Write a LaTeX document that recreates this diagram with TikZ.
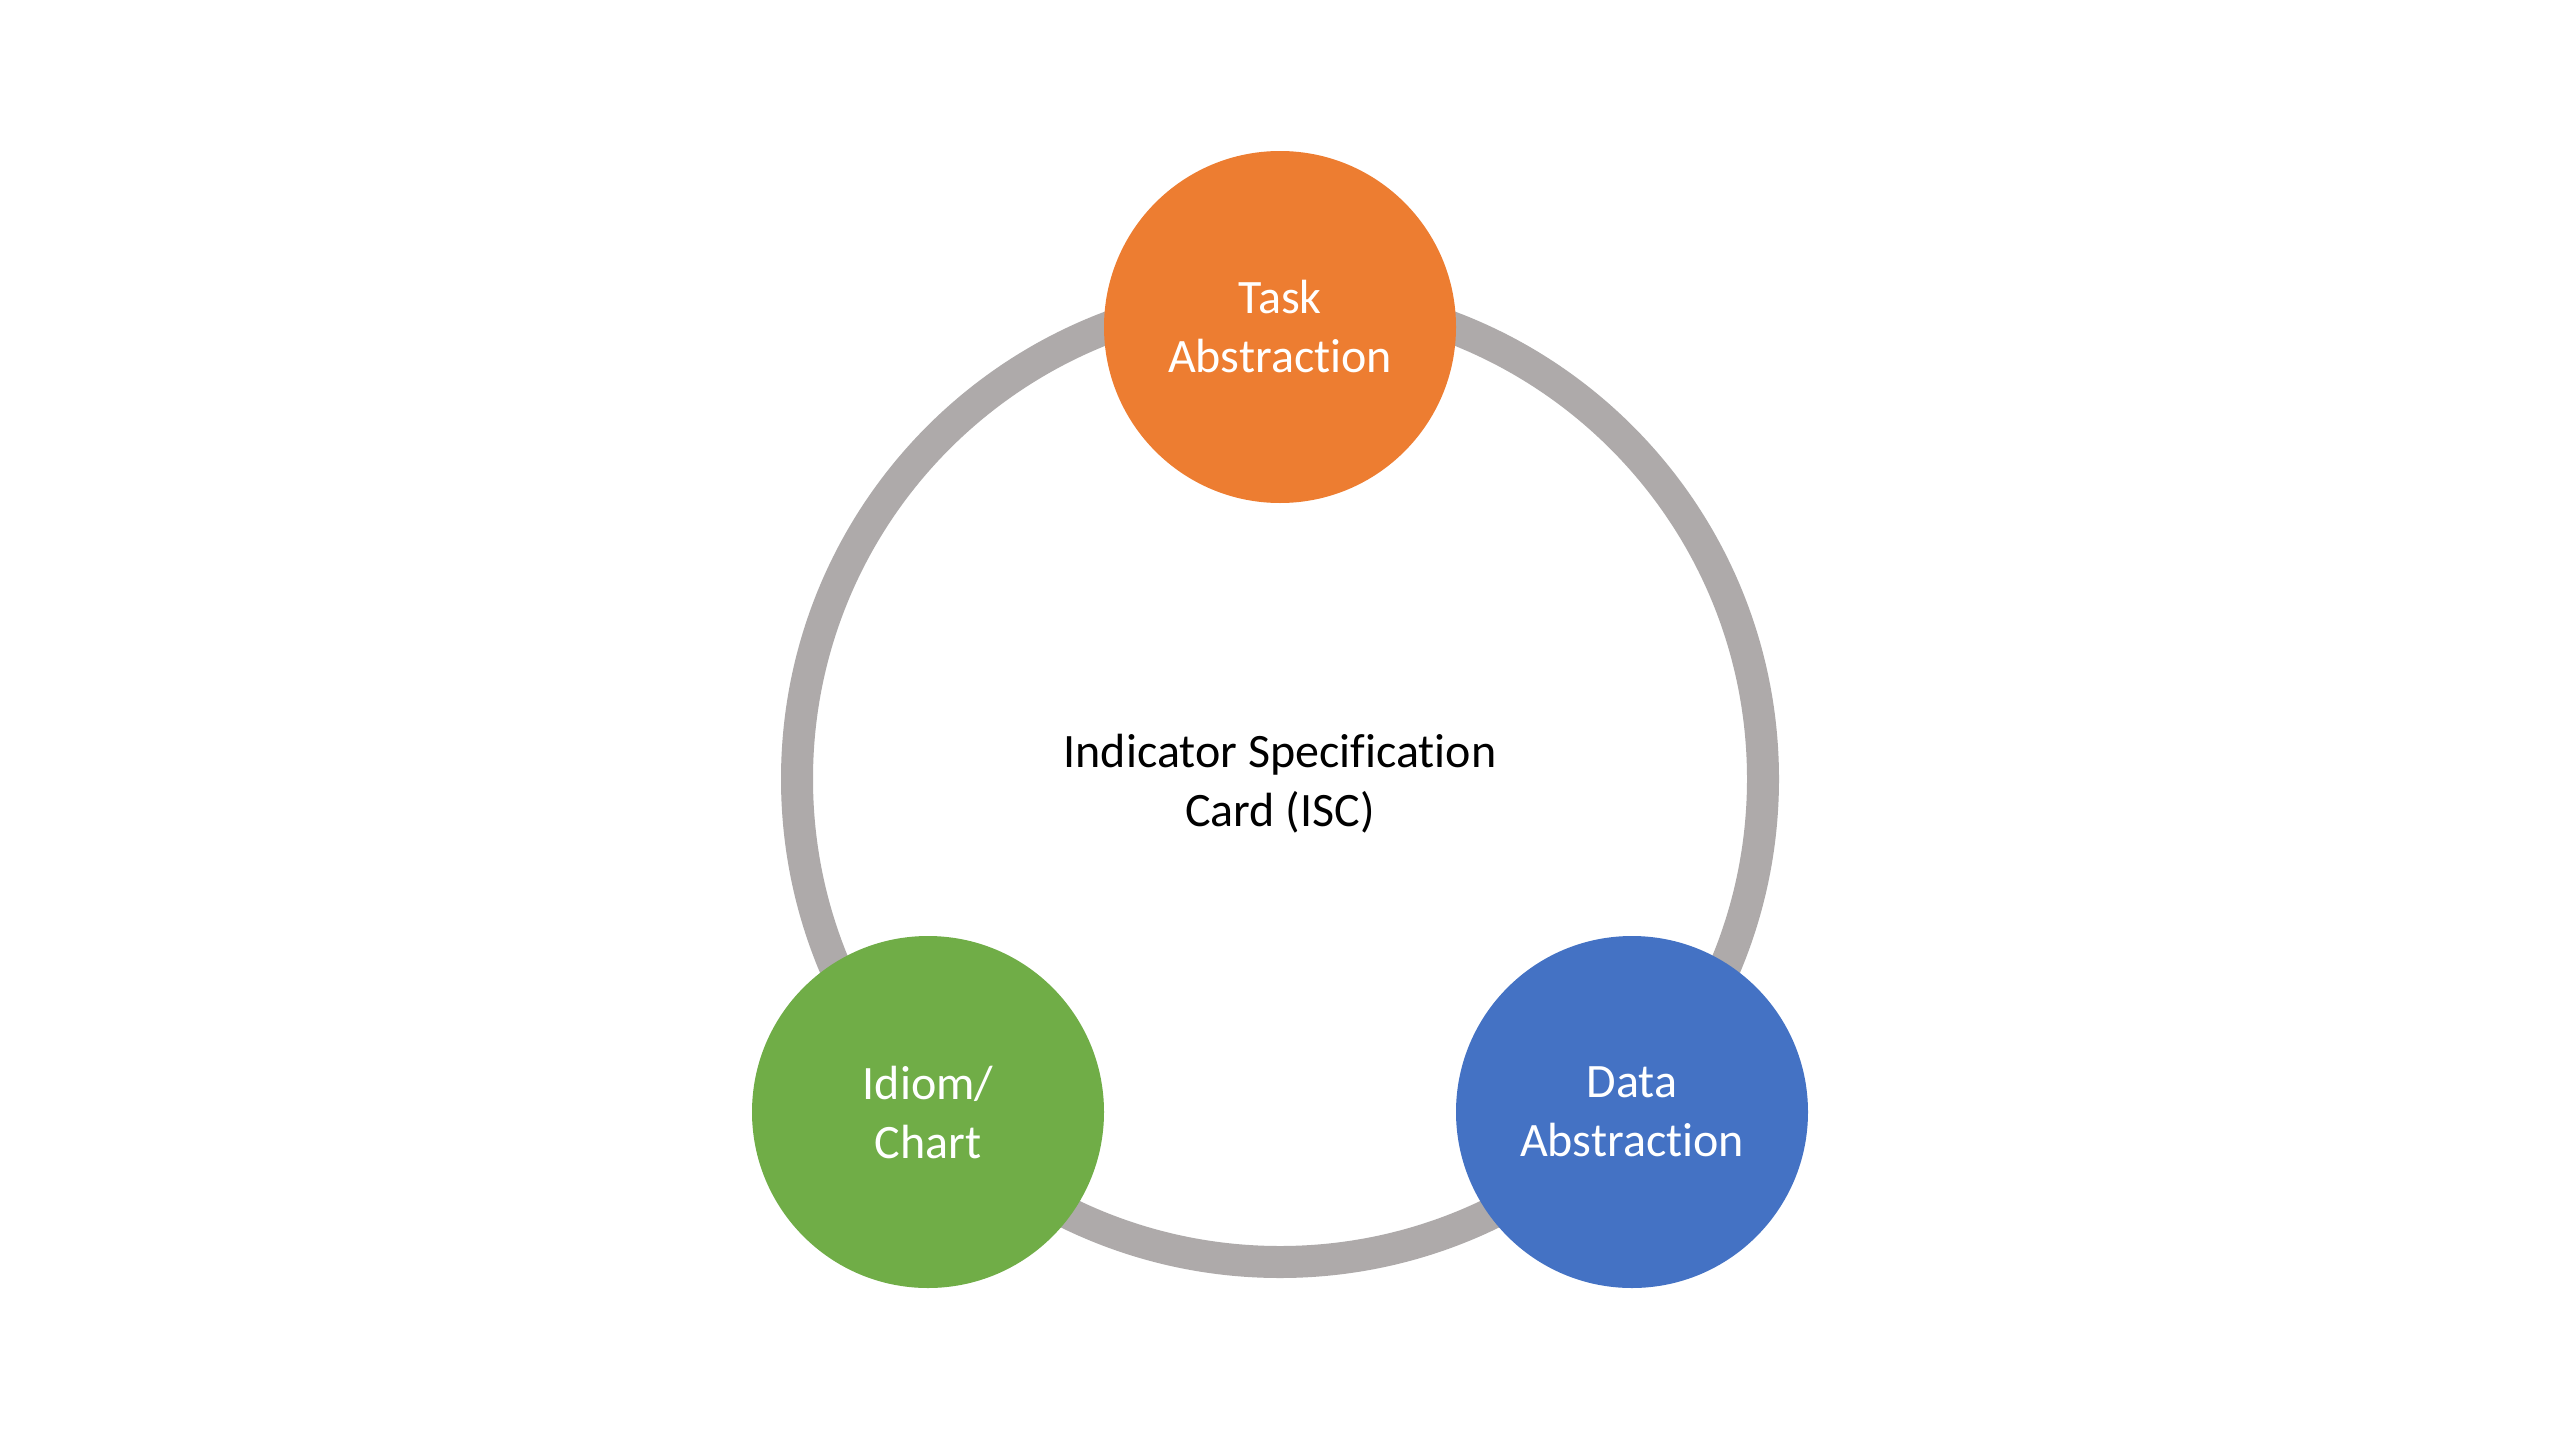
\documentclass[tikz,border=0pt]{standalone}
\usepackage{fontspec}
\setmainfont{Carlito}[Ligatures=NoCommon]
\definecolor{ringgray}{HTML}{AEAAAA}
\definecolor{taskorange}{HTML}{ED7D31}
\definecolor{idiomgreen}{HTML}{70AD47}
\definecolor{datablue}{HTML}{4472C4}
\tikzset{
  bubble/.style={circle, inner sep=0pt, minimum size=176pt, draw=none, text=white,
    align=center, font=\fontsize{24}{29.5}\selectfont},
  centertext/.style={align=center, text=black, font=\fontsize{24}{29.5}\selectfont},
  ringline/.style={draw=ringgray, line width=16pt}
}
\begin{document}
\begin{tikzpicture}[x=0.5pt, y=-0.5pt]
  \useasboundingbox[fill=white] (0,0) rectangle (2560,1440);
  \coordinate (c) at (1280,779);
  \draw[ringline] (c) circle (241.5pt);
  \node[centertext, yshift=-2.5pt] (isc) at (c) {Indicator Specification\\Card (ISC)};
  \node[bubble, fill=taskorange] (task) at (1280,327) {Task\\Abstraction};
  \node[bubble, fill=idiomgreen] (idiom) at (928,1112) {Idiom/\\Chart};
  \node[bubble, fill=datablue] (data) at (1632,1112) {Data\\Abstraction};
\end{tikzpicture}
\end{document}
